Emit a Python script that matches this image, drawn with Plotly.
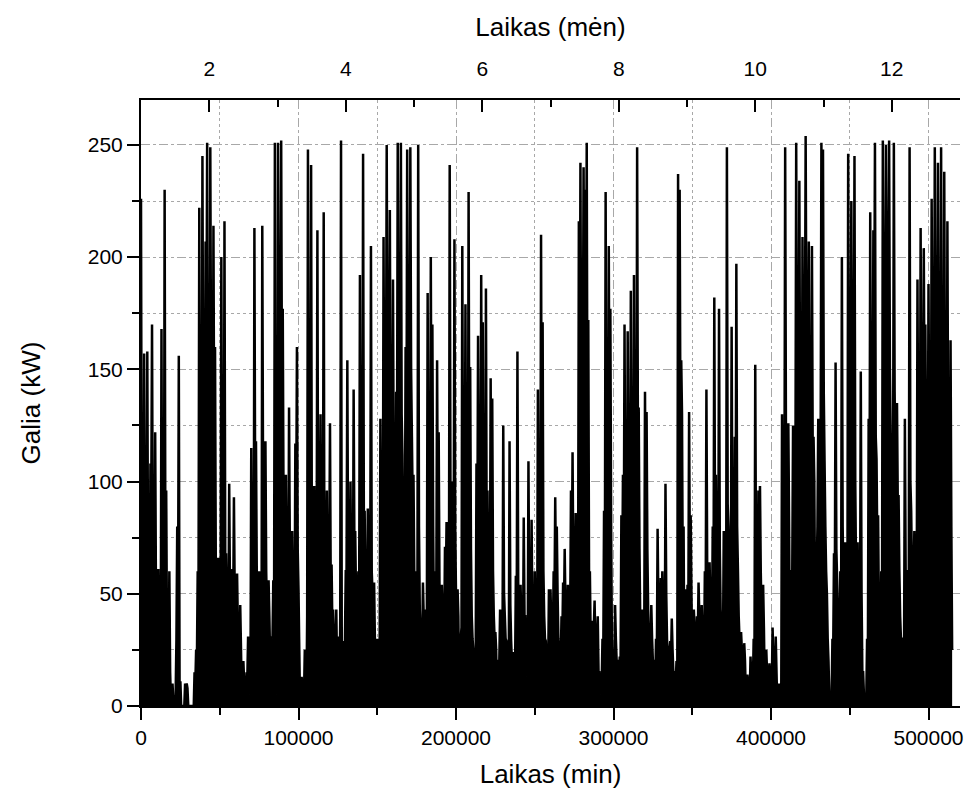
import numpy as np
import plotly.graph_objects as go

# Wind turbine output over the year.
# power_* : readings every 1000 minutes (peaks and dips of the trace)
# fill_*  : readings taken half-way between them (level of the dense band)
STEP_MIN = 1000

power_jan_feb = [
    226, 40, 157, 30, 158, 60, 108, 170, 40, 122,
    20, 61, 5, 168, 40, 230, 96, 20, 60, 2,
    10, 0, 5, 80, 156, 11, 0, 0, 10, 10,
    0, 0, 0, 0, 15, 25, 60, 222, 50, 245,
    80, 207, 251, 70, 249, 100, 214, 160, 30, 66,
    10, 200, 40, 216, 68, 20, 99, 10, 61, 93,
    5, 59, 8, 45, 3, 20, 0, 15, 31, 5,
    115, 20, 213, 118, 25, 60, 10, 214, 60, 118,
    40, 56, 20, 31, 56, 251, 5,
]
power_mar_apr = [
    251, 60, 252, 177, 60, 103, 20, 133, 52, 78,
    10, 117, 160, 52, 0, 13, 0, 25, 0, 248,
    40, 241, 52, 98, 30, 212, 60, 130, 20, 220,
    43, 96, 20, 126, 63, 43, 10, 43, 31, 0,
    252, 29, 0, 60, 154, 30, 100, 15, 141, 78,
    25, 60, 192, 50, 246, 87, 20, 88, 30, 205,
    50, 55, 20, 30, 5, 128, 50, 209, 100, 250,
    150, 221, 70, 190, 40, 140, 251, 100, 251, 112,
    30, 160, 248, 70, 249, 120,
]
power_may_jun = [
    103, 20, 60, 250, 43, 10, 55, 20, 43, 184,
    60, 200, 170, 33, 60, 154, 122, 20, 54, 10,
    71, 82, 20, 241, 15, 100, 208, 50, 52, 5,
    30, 205, 80, 179, 60, 229, 151, 40, 25, 5,
    108, 165, 80, 192, 171, 60, 186, 96, 50, 146,
    137, 40, 33, 5, 20, 43, 15, 125, 40, 29,
    5, 118, 29, 24, 10, 58, 158, 40, 54, 10,
    84, 40, 13, 109, 30, 83, 20, 60, 29, 141,
    60, 210, 171, 40, 29, 10, 52,
]
power_jul_aug = [
    52, 20, 60, 93, 80, 30, 15, 40, 55, 70,
    20, 54, 10, 96, 113, 60, 86, 40, 216, 242,
    120, 240, 230, 251, 172, 60, 38, 10, 47, 20,
    40, 15, 5, 30, 87, 229, 80, 205, 177, 26,
    10, 45, 20, 10, 22, 85, 103, 170, 50, 167,
    121, 185, 60, 192, 80, 249, 133, 36, 43, 20,
    140, 131, 43, 10, 45, 20, 8, 30, 79, 20,
    57, 60, 15, 99, 29, 10, 29, 39, 15, 5,
    20, 237, 230, 154, 52, 8, 52,
]
power_sep_oct = [
    54, 131, 85, 20, 43, 10, 40, 55, 20, 45,
    10, 60, 141, 30, 64, 20, 80, 182, 103, 40,
    177, 43, 20, 78, 30, 249, 80, 66, 169, 50,
    120, 197, 61, 30, 33, 10, 28, 5, 14, 2,
    22, 8, 30, 152, 80, 96, 98, 40, 54, 10,
    25, 3, 19, 5, 35, 10, 31, 0, 10, 0,
    130, 60, 249, 100, 126, 20, 60, 125, 90, 251,
    120, 234, 40, 209, 150, 254, 120, 207, 75, 205,
    120, 40, 60, 128, 40, 251,
]
power_nov_dec = [
    248, 109, 60, 30, 5, 2, 30, 68, 153, 56,
    5, 60, 200, 54, 73, 30, 246, 100, 225, 120,
    245, 60, 73, 20, 149, 15, 5, 0, 30, 128,
    220, 90, 212, 251, 110, 85, 25, 60, 252, 150,
    250, 219, 252, 120, 78, 251, 100, 135, 94, 40,
    4, 30, 128, 36, 60, 249, 87, 40, 78, 30,
    190, 100, 213, 130, 204, 170, 50, 188, 110, 226,
    190, 249, 120, 242, 87, 249, 41, 238, 60, 216,
    26, 163, 25,
]

fill_jan_feb = [
    60, 45, 70, 35, 55, 40, 90, 60, 30, 50, 25, 35,
    10, 45, 20, 60, 30, 8, 15, 0, 3, 2, 30, 40, 5, 0, 0,
    0, 8, 8, 0, 0, 0, 0,
    10, 20, 45, 90, 60, 130, 70, 150, 120, 60, 140, 80, 110,
    60, 45, 40, 30, 80, 35, 60, 45, 30, 50, 20, 40, 50,
    20, 35, 15, 25, 5, 10, 2, 12, 20, 10, 50, 15, 90, 60, 20,
    40, 15, 100, 50, 60, 35, 40, 25, 30, 45, 60, 10,
]
fill_mar_apr = [
    150, 120, 140, 90, 55, 60, 40, 70, 50, 45, 30, 80, 70, 25,
    5, 5, 5, 10, 40, 60, 70, 60, 50, 45, 60, 55, 70, 40, 60,
    35, 55, 40, 60, 45, 35, 20, 30, 15, 10, 40, 10, 5, 30, 60,
    60, 45, 55, 30, 70, 50, 40, 45, 60, 55, 80, 50, 35, 50, 40,
    60, 35, 30, 25, 15,
    20, 60, 45, 90, 120, 140, 130, 110, 80, 90, 60, 100, 140,
    120, 130, 70, 60, 100, 140, 90, 150, 90,
]
fill_may_jun = [
    60, 40, 45, 80, 30, 25, 40, 35, 40, 70, 55, 90, 80, 40,
    50, 70, 55, 35, 40, 30, 50, 55, 40, 90, 30, 60, 80, 45,
    40, 25, 35, 80, 60, 70, 50, 90, 70, 30, 20, 20, 60, 80,
    60, 80, 70, 50, 70, 55, 40, 60, 60, 30, 25, 15, 20,
    25, 20, 50, 30, 20, 15, 45, 20, 20, 15, 30, 55, 30, 35,
    20, 40, 25, 15, 45, 20, 40, 20, 30, 20, 60, 40, 70, 60,
    30, 20, 15, 30,
]
fill_jul_aug = [
    35, 30, 45, 55, 50, 25, 20, 30, 40, 45, 30, 35, 40, 55,
    60, 50, 55, 45,
    110, 130, 140, 150, 160, 100, 50, 30, 25, 35, 25, 30, 15,
    10, 10, 20, 50, 100, 70, 100, 80, 20, 15, 30, 20, 15, 20,
    50, 60, 80, 50, 80, 70, 90, 50, 90, 60, 120, 70,
    30, 30, 25, 60, 70, 30, 20, 30, 20, 10, 20, 45, 30, 40,
    45, 20, 50, 25, 15, 20, 25, 15, 10, 10, 15, 120, 130, 80,
    30, 30,
]
fill_sep_oct = [
    40, 60, 50, 25, 35, 20, 30, 40, 25, 30, 20, 40, 60, 35,
    45, 30, 50, 70, 60, 45, 70, 35, 25, 45, 30, 90, 55, 50,
    70, 40, 60, 80,
    40, 25, 25, 15, 20, 8, 10, 5, 12, 10, 20, 60, 50, 55,
    60, 40, 35, 15, 15, 8, 12, 8, 20, 12, 15, 3, 5, 3,
    50, 80, 120, 90, 80, 50, 60, 80, 100, 140, 110, 120, 90,
    130, 150, 160, 130, 120, 80, 110, 100, 60, 80, 90, 110, 150,
]
fill_nov_dec = [
    140, 80, 50, 20, 5, 5, 25, 50, 70, 40, 20, 40, 80, 50, 50, 40,
    120, 110, 130, 120, 100, 50, 45, 30, 50, 15, 5, 3, 20, 70,
    100, 110, 150, 120, 70, 40, 30, 45,
    140, 160, 180, 170, 150, 110, 100, 140, 100, 90, 60, 30,
    10, 30, 60, 45, 60, 100, 60, 50,
    50, 40, 100, 90, 120, 110, 130, 110, 80, 110, 90, 140,
    130, 150, 110, 140, 80, 130, 60, 120, 70, 110, 50, 80,
]

power_kw = (power_jan_feb + power_mar_apr + power_may_jun
            + power_jul_aug + power_sep_oct + power_nov_dec)
fill_kw = (fill_jan_feb + fill_mar_apr + fill_may_jun
           + fill_jul_aug + fill_sep_oct + fill_nov_dec)

# merge the two reading sets into one time-ordered trace
t_main = np.arange(len(power_kw)) * STEP_MIN
t_fill = np.arange(len(fill_kw)) * STEP_MIN + STEP_MIN // 2
time_min = np.concatenate([t_main, t_fill])
values = np.concatenate([np.array(power_kw, float), np.array(fill_kw, float)])
order = np.argsort(time_min, kind="stable")
time_min, values = time_min[order], values[order]

x_ticks = [0, 100000, 200000, 300000, 400000, 500000]
y_ticks = [0, 50, 100, 150, 200, 250]
month_ticks = [2, 4, 6, 8, 10, 12]

FONT = "Arial, Liberation Sans, sans-serif"
GRID = "#a8a8a8"

fig = go.Figure()
# the trace is so dense that the band beneath it reads as solid black
fig.add_trace(go.Scatter(
    x=time_min, y=values, mode="lines",
    line=dict(color="black", width=2.5, simplify=False),
    fill="tozeroy", fillcolor="black",
    showlegend=False, hoverinfo="x+y",
))
# empty trace so the month axis along the top is drawn
fig.add_trace(go.Scatter(
    x=[1, 13], y=[None, None], xaxis="x2", mode="lines",
    showlegend=False, hoverinfo="skip",
))

fig.update_layout(
    width=973, height=800,
    margin=dict(l=141, r=10, t=100, b=94),
    paper_bgcolor="white", plot_bgcolor="white",
    font=dict(family=FONT, color="black", size=21),
    xaxis=dict(
        range=[0, 520000], tickvals=x_ticks, tickformat="d",
        showline=True, linecolor="black", linewidth=2,
        ticks="outside", ticklen=12, tickwidth=2, tickcolor="black",
        showgrid=True, gridcolor=GRID, gridwidth=1, griddash="dash",
        zeroline=False,
        minor=dict(dtick=50000, ticks="outside", ticklen=7, tickwidth=2,
                   tickcolor="black", showgrid=True, gridcolor=GRID,
                   gridwidth=1, griddash="dot"),
        tickfont=dict(size=21),
        title=dict(text="Laikas (min)", font=dict(size=26), standoff=17),
    ),
    xaxis2=dict(
        overlaying="x", side="top", range=[1, 13],
        tickvals=month_ticks,
        showline=True, linecolor="black", linewidth=2,
        ticks="inside", ticklen=12, tickwidth=2, tickcolor="black",
        ticklabelstandoff=14,
        showgrid=False, zeroline=False,
        minor=dict(tick0=1, dtick=2, ticks="inside", ticklen=7, tickwidth=2,
                   tickcolor="black", showgrid=False),
        tickfont=dict(size=21),
        title=dict(text="Laikas (mėn)", font=dict(size=26), standoff=12),
    ),
    yaxis=dict(
        range=[0, 270], tickvals=y_ticks,
        showline=True, linecolor="black", linewidth=2,
        ticks="outside", ticklen=12, tickwidth=2, tickcolor="black",
        showgrid=True, gridcolor=GRID, gridwidth=1, griddash="dash",
        zeroline=False,
        minor=dict(dtick=25, ticks="outside", ticklen=7, tickwidth=2,
                   tickcolor="black", showgrid=True, gridcolor=GRID,
                   gridwidth=1, griddash="dot"),
        tickfont=dict(size=21),
        title=dict(text="Galia (kW)", font=dict(size=26), standoff=40),
    ),
)

fig.write_html("out.html")
